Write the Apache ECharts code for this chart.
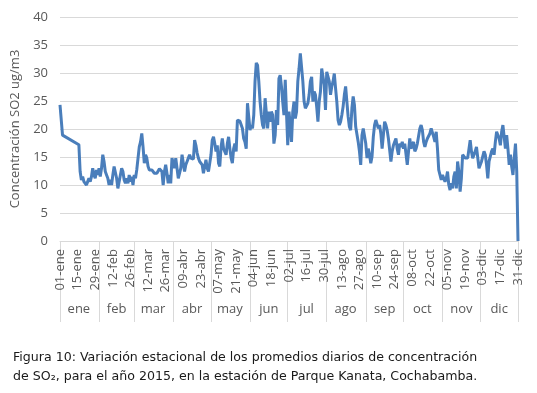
<!DOCTYPE html>
<html>
<head>
<meta charset="utf-8">
<script src="https://cdn.jsdelivr.net/npm/echarts@6/dist/echarts.min.js"></script>
<style>
  html, body { margin: 0; padding: 0; background: #fff; }
  #chart { width: 537px; height: 393px; }
</style>
</head>
<body>
<div id="chart"></div>
<script>
// meses y dias por mes (2015)
const meses = ['ene', 'feb', 'mar', 'abr', 'may', 'jun', 'jul', 'ago', 'sep', 'oct', 'nov', 'dic']
const diasMes = [31, 28, 31, 30, 31, 30, 31, 31, 30, 31, 30, 31]

// promedios diarios SO2 (ug/m3); null = sin dato
const ene = [24.3, 24.0, 18.9, null, null, null, null, null, null, null, null, null, null, null, null,
    17.2, 12.4, 10.9, 11.5, 10.6, 10.3, 10.0, 10.6, 11.2, 10.6, 11.5, 13.0, 11.8, 11.2, 12.7, 11.8]
const feb = [13.0, 11.5, 13.0, 15.4, 14.2, 12.4, 11.8, 11.2, 10.0, 10.9, 10.0, 11.8, 13.3, 13.6,
    11.2, 9.4, 9.7, 11.8, 13.0, 12.4, 10.9, 10.3, 11.2, 10.3, 11.8, 10.6, 11.5, 10.0]
const mar = [11.8, 11.2, 12.7, 13.0, 16.8, 17.7, 19.2, 16.8, 13.9, 15.4, 14.8, 13.3, 12.7, 13.0, 12.7,
    13.0, 12.1, 11.8, 12.1, 12.4, 12.9, 12.7, 12.4, 10.0, 12.4, 13.6, 12.1, 10.3, 11.8, 10.3, 14.8]
const abr = [14.5, 13.0, 14.8, 15.1, 11.2, 10.9, 13.0, 15.4, 15.7, 12.4, 13.6, 14.2, 14.8, 15.4, 14.8,
    14.5, 14.6, 18.0, 17.1, 15.7, 14.8, 14.2, 14.5, 13.6, 12.1, 13.3, 14.5, 13.0, 12.4, 13.9]
const may = [15.4, 18.0, 18.6, 17.4, 16.0, 17.1, 13.9, 13.3, 16.8, 18.3, 16.5, 16.8, 15.4, 17.4, 18.6,
    16.5, 14.8, 13.9, 16.5, 17.4, 16.0, 21.6, 21.8, 21.4, 21.6, 20.1, 18.3, 17.7, 16.5, 24.6, 24.9]
const jun = [19.8, 20.7, 20.1, 22.5, 28.5, 31.8, 31.4, 28.5, 24.9, 22.5, 20.7, 20.1, 25.5, 25.8, 20.1,
    23.1, 21.3, 23.1, 22.5, 17.4, 18.9, 23.4, 20.7, 29.0, 29.6, 27.6, 24.9, 22.5, 28.8, 28.5]
const jul = [17.1, 23.1, 20.7, 17.7, 23.1, 24.9, 21.9, 23.1, 28.5, 30.8, 33.5, 33.2, 28.5, 24.9, 23.7,
    23.4, 24.6, 26.1, 28.5, 29.3, 24.9, 26.7, 26.1, 24.0, 21.3, 24.9, 26.7, 30.8, 31.1, 27.9, 23.4]
const ago = [30.2, 30.5, 28.5, 26.1, 27.6, 28.5, 29.9, 27.3, 24.9, 21.6, 20.7, 21.3, 22.5, 24.0, 26.1,
    27.6, 24.9, 22.2, 20.4, 19.8, 23.7, 25.8, 24.3, 20.4, 20.1, 17.7, 16.0, 13.6, 18.9, 20.1, 19.8]
const sep = [17.4, 14.8, 16.5, 15.4, 13.9, 15.1, 18.6, 20.7, 21.6, 21.3, 20.1, 20.7, 19.2, 16.5, 18.9,
    21.3, 20.7, 19.8, 18.3, 16.3, 14.2, 16.0, 17.1, 17.7, 18.3, 16.5, 15.4, 17.4, 16.8, 17.7]
const oct = [16.5, 17.4, 17.7, 13.6, 16.0, 18.3, 16.5, 16.8, 17.7, 16.0, 16.5, 17.4, 17.7, 20.1, 20.7,
    19.8, 17.7, 16.8, 17.7, 18.3, 18.6, 19.2, 20.1, 19.8, 18.6, 17.7, 19.5, 16.5, 12.7, 12.4, 10.9]
const nov = [11.8, 11.2, 10.6, 11.2, 12.4, 10.0, 9.1, 10.3, 9.4, 11.5, 12.4, 9.4, 14.2, 12.4, 8.8,
    11.2, 15.4, 15.7, 14.8, 15.1, 14.8, 14.5, 18.0, 16.0, 14.8, 14.5, 16.0, 16.8, 17.1, 13.0]
const dic = [12.7, 14.2, 14.2, 16.0, 15.4, 13.6, 11.2, 14.2, 15.1, 16.0, 16.5, 15.4, 17.7, 19.5, 19.8,
    18.3, 17.1, 19.5, 20.7, 18.6, 16.5, 18.9, 16.5, 13.6, 15.4, 13.3, 11.8, 14.8, 17.4, 12.4, 0]

const valores = [].concat(ene, feb, mar, abr, may, jun, jul, ago, sep, oct, nov, dic)

// etiquetas dd-mmm y posiciones de inicio / centro de cada mes
let fechas = []
let inicios = []
let centros = {}
diasMes.forEach((n, m) => {
    inicios.push(fechas.length)
    centros[fechas.length + Math.floor(n / 2)] = meses[m]
    for (let d = 1; d <= n; d++) {
        fechas.push((d < 10 ? '0' : '') + d + '-' + meses[m])
    }
})
inicios.push(fechas.length - 1)

const gris = '#d9d9d9'
const texto = '#595959'
const fuente = 'Open Sans'

const chart = echarts.init(document.getElementById('chart'))
chart.setOption({
    animation: false,
    backgroundColor: '#fff',
    grid: { left: 60, right: 19, top: 17, bottom: 152 },
    title: {
        left: 8,
        top: 343,
        text: 'Figura 10: Variación estacional de los promedios diarios de concentración\nde SO₂, para el año 2015, en la estación de Parque Kanata, Cochabamba.',
        textStyle: {
            fontFamily: 'DejaVu Sans',
            fontSize: 12.6,
            fontWeight: 'normal',
            color: '#1a1a1a',
            lineHeight: 19
        }
    },
    xAxis: [
        {
            type: 'category',
            data: fechas,
            boundaryGap: false,
            axisLine: { lineStyle: { color: gris, width: 1 } },
            axisTick: { show: false },
            axisLabel: {
                interval: 13,
                rotate: 90,
                margin: 8,
                fontSize: 13,
                fontFamily: fuente,
                color: texto
            },
            splitLine: { show: false }
        },
        {
            type: 'category',
            data: fechas,
            boundaryGap: false,
            position: 'bottom',
            axisLine: { show: false },
            axisTick: {
                show: true,
                interval: (i) => inicios.includes(i),
                length: 81,
                lineStyle: { color: gris, width: 1 }
            },
            axisLabel: {
                interval: (i) => centros[i] !== undefined,
                formatter: (v, i) => centros[i] || '',
                margin: 62,
                fontSize: 13,
                fontFamily: fuente,
                color: texto
            },
            splitLine: { show: false }
        }
    ],
    yAxis: {
        type: 'value',
        min: 0,
        max: 40,
        interval: 5,
        name: 'Concentración SO2 ug/m3',
        nameLocation: 'middle',
        nameGap: 26,
        nameTextStyle: { fontSize: 13, fontFamily: fuente, color: texto },
        axisLine: { show: false },
        axisTick: { show: false },
        axisLabel: { margin: 12, fontSize: 13, fontFamily: fuente, color: texto },
        splitLine: { lineStyle: { color: gris, width: 1 } }
    },
    series: [
        {
            type: 'line',
            xAxisIndex: 0,
            data: valores,
            connectNulls: true,
            showSymbol: false,
            symbol: 'none',
            lineStyle: { color: '#4a7ebb', width: 3 },
            itemStyle: { color: '#4a7ebb' }
        }
    ]
})
</script>
</body>
</html>
